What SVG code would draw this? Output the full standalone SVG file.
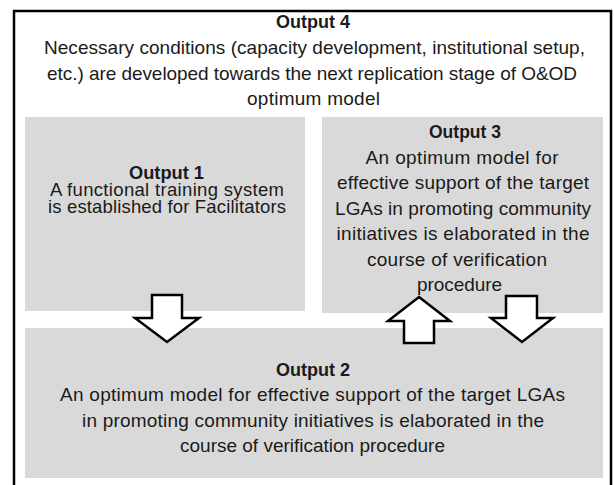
<svg xmlns="http://www.w3.org/2000/svg" width="614" height="485" viewBox="0 0 614 485">
<style>
.box{fill:#d9d9d9;stroke:none}
.t{font-family:"Liberation Sans",Arial,sans-serif;font-size:19px;fill:#1a1a1a;text-anchor:middle}
.s{font-size:18.5px}
.b{font-weight:bold}
.arrow{fill:#ffffff;stroke:#000000;stroke-width:2.5;stroke-linejoin:miter}
</style>
<rect width="614" height="485" fill="#ffffff"/>
<g id="output4">
<rect x="14" y="11" width="597" height="490" fill="#ffffff" stroke="#000000" stroke-width="2.5"/>
<text class="t b" x="313" y="28" textLength="74" lengthAdjust="spacingAndGlyphs">Output 4</text>
<text class="t" x="314.5" y="54" textLength="541" lengthAdjust="spacing">Necessary conditions (capacity development, institutional setup,</text>
<text class="t" x="312" y="80" textLength="530" lengthAdjust="spacing">etc.) are developed towards the next replication stage of O&amp;OD</text>
<text class="t" x="313.5" y="105" textLength="133" lengthAdjust="spacing">optimum model</text>
</g>
<g id="output1">
<rect class="box" x="25" y="117" width="280" height="194"/>
<text class="t s b" x="166.5" y="179" textLength="75" lengthAdjust="spacingAndGlyphs">Output 1</text>
<text class="t s" x="167" y="196" textLength="234" lengthAdjust="spacing">A functional training system</text>
<text class="t s" x="167" y="213" textLength="238" lengthAdjust="spacing">is established for Facilitators</text>
</g>
<g id="output3">
<rect class="box" x="322" y="117" width="281" height="196"/>
<text class="t b" x="465" y="138" textLength="72" lengthAdjust="spacingAndGlyphs">Output 3</text>
<text class="t" x="462" y="164" textLength="193" lengthAdjust="spacing">An optimum model for</text>
<text class="t" x="463" y="189" textLength="252" lengthAdjust="spacing">effective support of the target</text>
<text class="t" x="463" y="215" textLength="256" lengthAdjust="spacing">LGAs in promoting community</text>
<text class="t" x="463" y="240" textLength="253" lengthAdjust="spacing">initiatives is elaborated in the</text>
<text class="t" x="457" y="266" textLength="180" lengthAdjust="spacing">course of verification</text>
<text class="t" x="459.5" y="291" textLength="85" lengthAdjust="spacing">procedure</text>
</g>
<g id="output2">
<rect class="box" x="25" y="328" width="578" height="150"/>
<text class="t b" x="313" y="376" textLength="74" lengthAdjust="spacingAndGlyphs">Output 2</text>
<text class="t" x="312.5" y="401" textLength="505" lengthAdjust="spacing">An optimum model for effective support of the target LGAs</text>
<text class="t" x="313" y="427" textLength="462" lengthAdjust="spacing">in promoting community initiatives is elaborated in the</text>
<text class="t" x="312.5" y="452" textLength="265" lengthAdjust="spacing">course of verification procedure</text>
</g>
<g id="connectors">
<polygon class="arrow" points="152,295 182,295 182,318 199,318 167,342 135,318 152,318"/>
<polygon class="arrow" points="419,297 450,321 434,321 434,343 404,343 404,321 388,321"/>
<polygon class="arrow" points="506,296 537,296 537,318 553,318 522,342 491,318 506,318"/>
</g>
</svg>
